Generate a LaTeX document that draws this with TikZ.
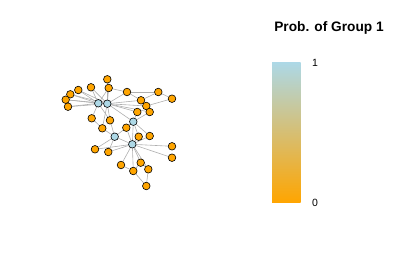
\documentclass[tikz,border=0pt]{standalone}
\usepackage{fontspec}
\setmainfont{Liberation Sans}
\pgfdeclarelayer{bg}
\pgfsetlayers{bg,main}
\definecolor{gorange}{RGB}{255,165,0}
\definecolor{gblue}{RGB}{173,216,230}
\definecolor{edgegray}{RGB}{175,175,175}
\tikzset{
  vo/.style={circle,draw=black,line width=0.6pt,fill=gorange,minimum size=7.6pt,inner sep=0pt},
  vb/.style={circle,draw=black,line width=0.6pt,fill=gblue,minimum size=7.6pt,inner sep=0pt},
  edge/.style={draw=edgegray,line width=0.6pt}
}
\begin{document}
\begin{tikzpicture}[x=1pt,y=-1pt]
\useasboundingbox (0,0) rectangle (420,280);
\foreach \n/\x/\y in {1/107.3/79.3,2/91/87.3,3/108.7/88,4/78.3/90,5/70.3/94.3,6/65.7/99.7,7/68/106.7,
 10/127/92,11/158.3/92,12/172/98.7,13/141/100.3,14/146.3/106,15/149.7/112,16/137.3/112,
 17/91.7/118.3,18/110/120.3,20/102.3/128.3,21/126.3/127.7,23/138.7/136.7,24/149.7/136,
 26/95/149.3,27/108.3/152,28/172/146.3,29/172/157.7,30/121/165,31/140.7/162.7,32/133.3/171,33/148.3/169.3,34/146.3/186}
  \node[vo] (n\n) at (\x,\y) {};
\foreach \n/\x/\y in {8/98.3/103.3,9/107.3/103.7,19/133.3/121.7,22/114.7/136.7,25/132.3/144.3}
  \node[vb] (n\n) at (\x,\y) {};
\begin{pgfonlayer}{bg}
\foreach \a/\b in {8/2,8/4,8/5,8/6,8/7,8/9,8/17,8/18,8/3,
 9/1,9/2,9/3,9/4,9/5,9/6,9/7,9/10,9/13,9/14,9/15,9/16,9/18,9/19,9/20,
 1/3,3/10,10/11,10/13,11/12,11/13,12/14,13/14,14/15,16/19,15/19,
 19/21,19/23,19/25,19/24,
 22/20,22/18,22/25,22/26,22/27,22/21,
 25/21,25/23,25/24,25/28,25/29,25/30,25/31,25/32,25/33,25/27,25/26,
 30/32,31/33,31/32,33/34,32/34,17/20}
  \draw[edge] (n\a) -- (n\b);
\end{pgfonlayer}
\shade[top color=gblue,bottom color=gorange] (272,62.7) rectangle (300.7,202.7);
\node[font=\bfseries\fontsize{13.7}{16}\selectfont] (title) at (329,28) {Prob. of Group 1};
\node[font=\fontsize{10.5}{12}\selectfont] (t1) at (315,62.7) {1};
\node[font=\fontsize{10.5}{12}\selectfont] (t0) at (315,202.7) {0};
\end{tikzpicture}
\end{document}
